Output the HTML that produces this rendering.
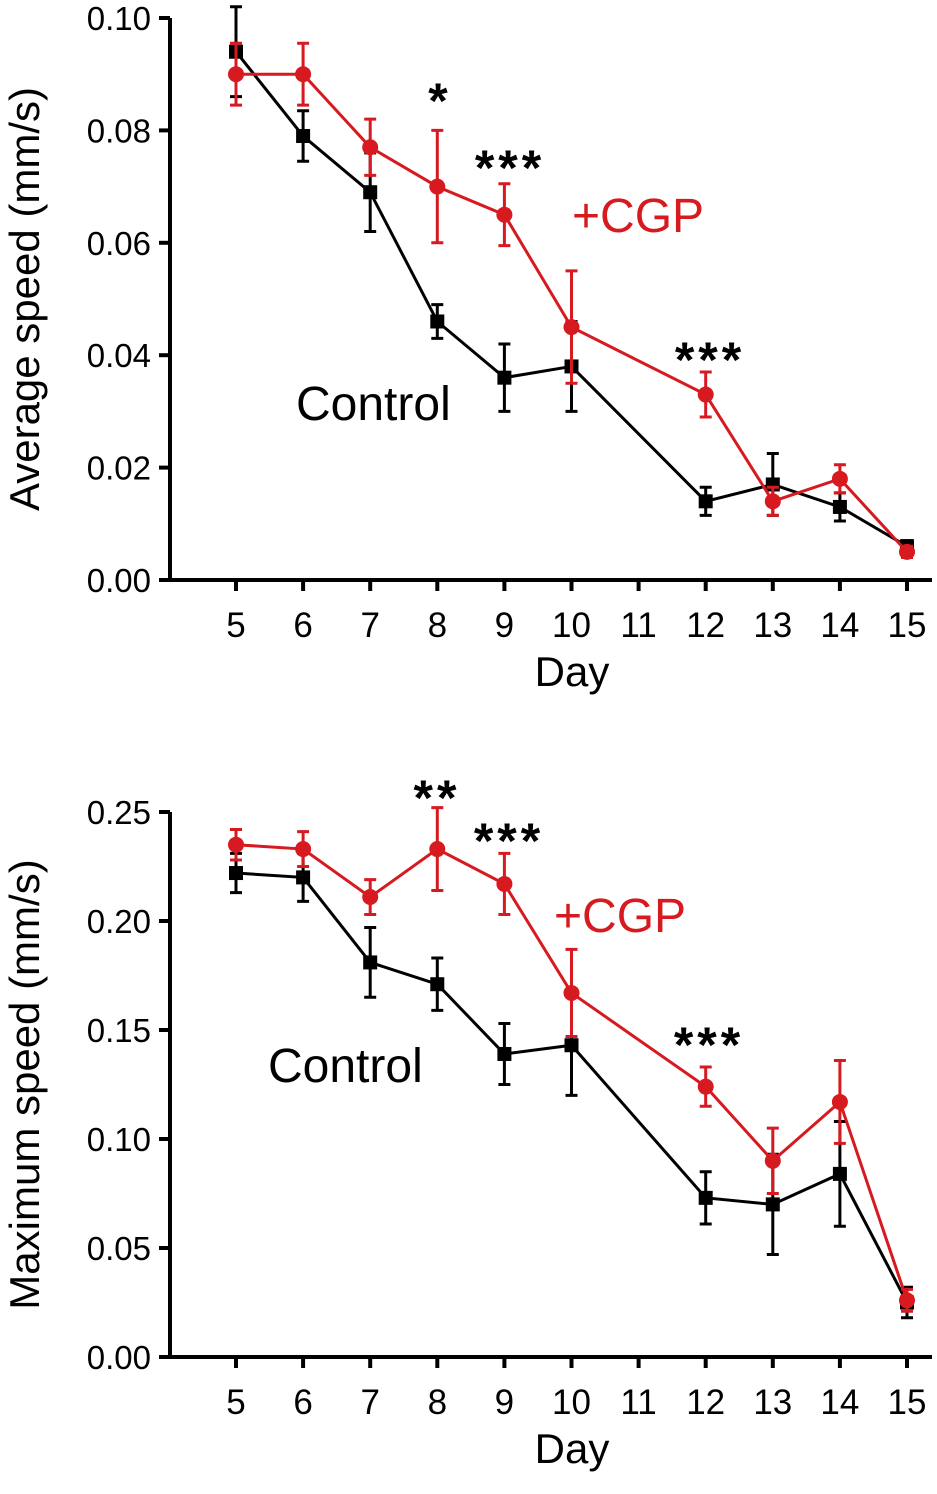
<!DOCTYPE html>
<html><head><meta charset="utf-8"><style>
html,body{margin:0;padding:0;background:#fff}
svg{display:block;font-family:"Liberation Sans","DejaVu Sans",sans-serif}
</style></head><body>
<svg id="c" width="937" height="1494" viewBox="0 0 937 1494"></svg>
<script>
const days=[5,6,7,8,9,10,12,13,14,15];
const xTicks=[5,6,7,8,9,10,11,12,13,14,15];
const avgCtrl=[0.094,0.079,0.069,0.046,0.036,0.038,0.014,0.017,0.013,0.006];
const avgCtrlErr=[0.008,0.0045,0.007,0.003,0.006,0.008,0.0025,0.0055,0.0025,0.001];
const avgCgp=[0.090,0.090,0.077,0.070,0.065,0.045,0.033,0.014,0.018,0.005];
const avgCgpErr=[0.0055,0.0055,0.005,0.010,0.0055,0.010,0.004,0.0025,0.0025,0.001];
const avgTicks=["0.00","0.02","0.04","0.06","0.08","0.10"];
const maxCtrl=[0.222,0.220,0.181,0.171,0.139,0.143,0.073,0.070,0.084,0.025];
const maxCtrlErr=[0.009,0.011,0.016,0.012,0.014,0.023,0.012,0.023,0.024,0.007];
const maxCgp=[0.235,0.233,0.211,0.233,0.217,0.167,0.124,0.090,0.117,0.026];
const maxCgpErr=[0.007,0.008,0.008,0.019,0.014,0.020,0.009,0.015,0.019,0.005];
const maxTicks=["0.00","0.05","0.10","0.15","0.20","0.25"];

const svg=document.getElementById('c');
const NS='http://www.w3.org/2000/svg';
function mk(tag,attrs,parent){const e=document.createElementNS(NS,tag);for(const k in attrs)e.setAttribute(k,attrs[k]);(parent||svg).appendChild(e);return e;}
function txt(s,attrs,name){const t=mk('text',attrs);t.textContent=s;


return t;}

function chart(cfg){
  const g=mk('g',{});
  
  
  const X=d=>236+(d-5)*67.1;
  const Y=v=>cfg.y0-(v/cfg.ymax)*(cfg.y0-cfg.ytop);
  const ax=mk('path',{d:`M170 ${cfg.ytop} V${cfg.y0} H932`,stroke:'#000','stroke-width':4,fill:'none'},g);
  
  
  cfg.ticks.forEach((t,i)=>{
    const v=parseFloat(t), y=Y(v);
    mk('line',{x1:159,x2:170,y1:y,y2:y,stroke:'#000','stroke-width':4},g);
    txt(t,{x:151,y:y+12,'text-anchor':'end','font-size':33},'y-tick-label');
  });
  xTicks.forEach(d=>{
    mk('line',{x1:X(d),x2:X(d),y1:cfg.y0,y2:cfg.y0+11,stroke:'#000','stroke-width':4},g);
    txt(String(d),{x:X(d),y:cfg.y0+57,'text-anchor':'middle','font-size':35},'x-tick-label');
  });
  txt('Day',{x:572,y:cfg.y0+106,'text-anchor':'middle','font-size':42},'x-axis-title');
  txt(cfg.ylabel,{x:0,y:0,'text-anchor':'middle','font-size':42,transform:`translate(39 ${(cfg.ytop+cfg.y0)/2+(cfg.shift||0)}) rotate(-90)`},'y-axis-title');
  function series(vals,errs,color,marker,nm){
    const pts=days.map((d,i)=>X(d)+','+Y(vals[i])).join(' ');
    const l=mk('polyline',{points:pts,fill:'none',stroke:color,'stroke-width':3},g);
    
    
    days.forEach((d,i)=>{
      const x=X(d),y1=Y(vals[i]+errs[i]),y2=Y(vals[i]-errs[i]);
      mk('path',{d:`M${x} ${y1}V${y2}M${x-6} ${y1}H${x+6}M${x-6} ${y2}H${x+6}`,stroke:color,'stroke-width':3,fill:'none'},g);
      let m;
      if(marker==='sq') m=mk('rect',{x:x-7,y:Y(vals[i])-7,width:14,height:14,fill:color},g);
      else m=mk('circle',{cx:x,cy:Y(vals[i]),r:8,fill:color},g);
      
      
    });
  }
  series(cfg.ctrl,cfg.ctrlErr,'#000','sq','control');
  series(cfg.cgp,cfg.cgpErr,'#d71920','ci','cgp');
  cfg.stars.forEach(s=>txt(s[0],{x:s[1],y:s[2],'text-anchor':'middle','font-size':50,'letter-spacing':4,'font-weight':'bold'},'significance-marker'));
  txt('Control',{x:cfg.ctrlLab[0],y:cfg.ctrlLab[1],'font-size':48},'control-label');
  txt('+CGP',{x:cfg.cgpLab[0],y:cfg.cgpLab[1],'font-size':48,fill:'#d71920'},'cgp-label');
}
chart({name:'average-speed-chart',ytop:18,y0:580,ymax:0.10,ticks:avgTicks,ylabel:'Average speed (mm/s)',
 ctrl:avgCtrl,ctrlErr:avgCtrlErr,cgp:avgCgp,cgpErr:avgCgpErr,
 stars:[['*',440,118],['***',510,185],['***',710,377]],ctrlLab:[296,420],cgpLab:[572,232],shift:0});
chart({name:'maximum-speed-chart',ytop:812,y0:1357,ymax:0.25,ticks:maxTicks,ylabel:'Maximum speed (mm/s)',
 ctrl:maxCtrl,ctrlErr:maxCtrlErr,cgp:maxCgp,cgpErr:maxCgpErr,
 stars:[['**',437,815],['***',509,858],['***',709,1062]],ctrlLab:[268,1082],cgpLab:[554,932],shift:0});
</script>
</body></html>
